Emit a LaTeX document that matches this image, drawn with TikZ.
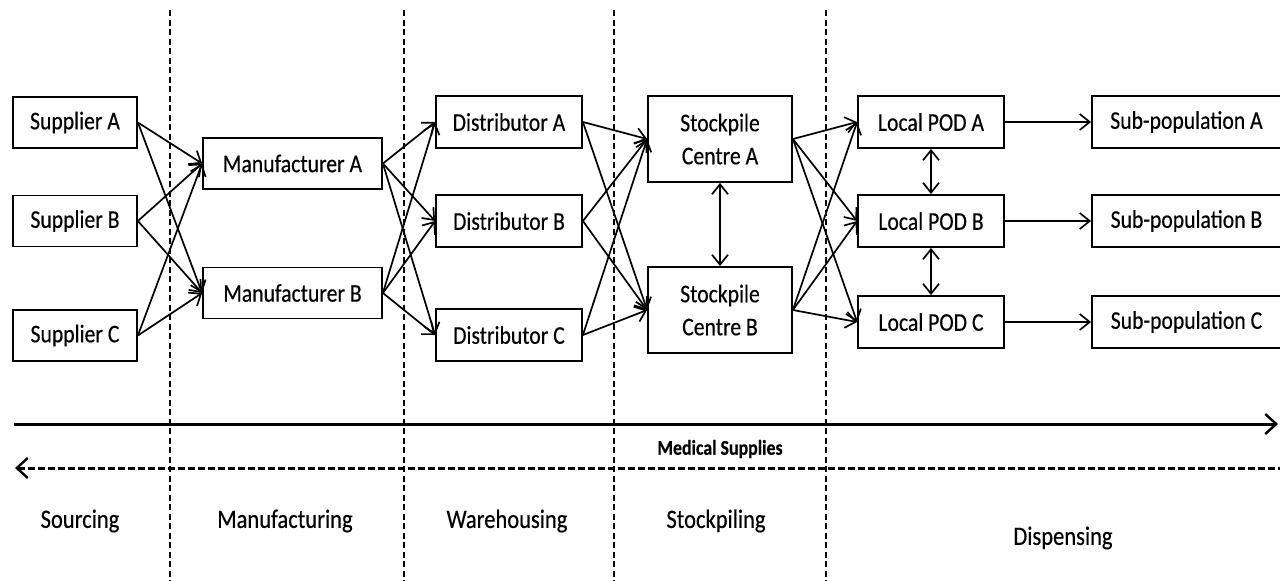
\documentclass[tikz,border=0pt]{standalone}
\usepackage{fontspec}
\setmainfont{Carlito}[FakeStretch=0.85, FakeBold=0.35]
\usetikzlibrary{arrows.meta}
\newcommand\bxfont{\fontsize{25.5}{33}\selectfont}
\newcommand\stgfont{\fontsize{26.5}{30}\selectfont}
\newcommand\medfont{\fontsize{21}{24}\selectfont\bfseries}
\begin{document}
\begin{tikzpicture}[x=1pt,y=-1pt,
  box/.style={draw, line width=1.8pt, inner sep=0pt, align=center, font=\bxfont},
  sbox/.style={box, minimum width=124pt, minimum height=51pt},
  mbox/.style={box, minimum width=179pt, minimum height=51pt},
  dbox/.style={box, minimum width=146pt, minimum height=52pt},
  kbox/.style={box, minimum width=144pt, minimum height=86pt},
  pbox/.style={box, minimum width=146pt, minimum height=52pt},
  ubox/.style={box, minimum width=189pt, minimum height=52pt},
  arr/.style={line width=1.7pt, -{Straight Barb[length=10pt,width=16pt]}},
  dbl/.style={line width=1.7pt, {Straight Barb[length=10pt,width=16pt]}-{Straight Barb[length=10pt,width=16pt]}},
  stageline/.style={line width=1.9pt, dash pattern=on 6pt off 3.5pt},
  flow/.style={line width=3pt, -{Straight Barb[length=11pt,width=20pt,line width=2.4pt]}},
  backflow/.style={line width=3pt, dash pattern=on 7pt off 3pt, {Straight Barb[length=11pt,width=20pt,line width=2.4pt]}-},
  stage/.style={font=\stgfont, inner sep=0pt}
]
\fill[white] (0,0) rectangle (1280,581);
\useasboundingbox (0,0) rectangle (1280,581);

% stage separators
\foreach \sx in {170,404,614,826}
  \draw[stageline] (\sx,10) -- (\sx,581);

% sourcing
\node[sbox] (supA) at (75,122.5) {Supplier A};
\node[sbox] (supB) at (75,221) {Supplier B};
\node[sbox] (supC) at (75,335.5) {Supplier C};
% manufacturing
\node[mbox] (manA) at (292.5,163.5) {Manufacturer A};
\node[mbox] (manB) at (292.5,293) {Manufacturer B};
% warehousing
\node[dbox] (disA) at (509,122) {Distributor A};
\node[dbox] (disB) at (509,221) {Distributor B};
\node[dbox] (disC) at (509,335) {Distributor C};
% stockpiling
\node[kbox] (stkA) at (720,139) {Stockpile\\Centre A};
\node[kbox] (stkB) at (720,310) {Stockpile\\Centre B};
% dispensing
\node[pbox] (podA) at (931,122) {Local POD A};
\node[pbox] (podB) at (931,221) {Local POD B};
\node[pbox] (podC) at (931,322) {Local POD C};
\node[ubox] (subA) at (1186.5,122) {Sub-population A};
\node[ubox] (subB) at (1186.5,221) {Sub-population B};
\node[ubox] (subC) at (1186.5,322) {Sub-population C};

% supply links
\foreach \s in {supA,supB,supC}
  \foreach \t in {manA,manB}
    \draw[arr] (\s.east) -- (\t.west);
\foreach \s in {manA,manB}
  \foreach \t in {disA,disB,disC}
    \draw[arr] (\s.east) -- (\t.west);
\foreach \s in {disA,disB,disC}
  \foreach \t in {stkA,stkB}
    \draw[arr] (\s.east) -- (\t.west);
\foreach \s in {stkA,stkB}
  \foreach \t in {podA,podB,podC}
    \draw[arr] (\s.east) -- (\t.west);
\draw[arr] (podA.east) -- (subA.west);
\draw[arr] (podB.east) -- (subB.west);
\draw[arr] (podC.east) -- (subC.west);

% lateral exchange
\draw[dbl] (stkA.south) -- (stkB.north);
\draw[dbl] (podA.south) -- (podB.north);
\draw[dbl] (podB.south) -- (podC.north);

% flow of medical supplies
\coordinate (flowL) at (14,424);
\coordinate (flowR) at (1278,424);
\coordinate (backL) at (15,468);
\coordinate (backR) at (1282,468);
\draw[flow] (flowL) -- (flowR);
\draw[backflow] (backL) -- (backR);
\node[font=\medfont, inner sep=0pt] (med) at (720,449) {Medical Supplies};

% stage names
\node[stage] (lsrc) at (80,521) {Sourcing};
\node[stage] (lman) at (285,521) {Manufacturing};
\node[stage] (lwar) at (507,521) {Warehousing};
\node[stage] (lstk) at (716,521) {Stockpiling};
\node[stage] (ldis) at (1063,538) {Dispensing};
\end{tikzpicture}
\end{document}
